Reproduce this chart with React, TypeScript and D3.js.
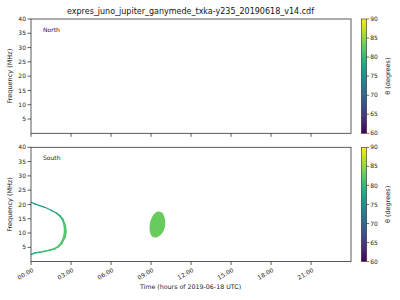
import React from "react";
import * as d3 from "d3";

const title = "expres_juno_jupiter_ganymede_txka-y235_20190618_v14.cdf";
const panels = ["North", "South"];
const xTickHours = [0, 3, 6, 9, 12, 15, 18, 21];
const xTickLabels = ["00:00", "03:00", "06:00", "09:00", "12:00", "15:00", "18:00", "21:00"];
const yTicks = [5, 10, 15, 20, 25, 30, 35, 40];
const cbTicks = [60, 65, 70, 75, 80, 85, 90];

// South arc (hours, MHz, theta degrees)
const arcTime = [0.02, 0.28, 0.65, 1.03, 1.52, 1.9, 2.15, 2.35, 2.48, 2.55, 2.57, 2.5, 2.27, 2.05, 1.77, 1.4, 1.03, 0.65, 0.28, 0.02];
const arcFreq = [20.75, 20.2, 19.6, 19.0, 17.95, 17.0, 16.1, 15.0, 13.4, 12.0, 10.4, 8.5, 6.3, 5.3, 4.5, 4.0, 3.6, 3.3, 3.0, 2.55];
const arcTheta = [76, 76, 76, 76.5, 77, 77.5, 78.5, 80, 81, 81.5, 82, 82, 82, 81.5, 81, 81, 80.5, 80, 79, 77];

// South blob outline (hours, MHz)
const blobTime = [9.6, 9.86, 9.99, 10.07, 10.05, 9.92, 9.68, 9.38, 9.08, 8.93, 8.89, 8.96, 9.15, 9.38];
const blobFreq = [17.54, 17.01, 15.79, 14.21, 12.29, 10.54, 9.14, 8.44, 8.79, 10.19, 12.11, 14.21, 16.14, 17.26];
const blobTheta = 83;

const FONT = "DejaVu Sans, sans-serif";
const AX = "#333";

export default function App() {
  const x = d3.scaleLinear().domain([0, 24]).range([31, 351]);
  const panelY = [
    d3.scaleLinear().domain([0, 40]).range([133.3, 19]),
    d3.scaleLinear().domain([0, 40]).range([261.6, 147.3]),
  ];
  const color = d3.scaleSequential(d3.interpolateViridis).domain([60, 90]);
  const cbX0 = 361.3;
  const cbW = 5.4;
  const gradStops = d3.range(0, 1.0001, 0.05);

  const yS = panelY[1];
  const blobPath = d3
    .line<number>()
    .x((_, i) => x(blobTime[i]))
    .y((_, i) => yS(blobFreq[i]))
    .curve(d3.curveCardinalClosed.tension(0.3))(blobTime.map((_, i) => i));

  const arcSegs = arcTime.slice(0, -1).map((_, i) => {
    const fm = (arcFreq[i] + arcFreq[i + 1]) / 2;
    const w = 1.2 + 1.8 * Math.max(0, 1 - Math.abs(fm - 10) / 8);
    return {
      x1: x(arcTime[i]),
      y1: yS(arcFreq[i]),
      x2: x(arcTime[i + 1]),
      y2: yS(arcFreq[i + 1]),
      c: color((arcTheta[i] + arcTheta[i + 1]) / 2),
      w,
    };
  });

  return (
    <svg
      width={400}
      height={300}
      style={{ position: "absolute", left: 0, top: 0, background: "#fff" }}
      fontFamily={FONT}
    >
      <defs>
        <linearGradient id="viridis" x1="0" y1="1" x2="0" y2="0">
          {gradStops.map((s) => (
            <stop key={s} offset={s} stopColor={d3.interpolateViridis(s)} />
          ))}
        </linearGradient>
      </defs>
      <text x={190.5} y={13.5} fontSize={8} textAnchor="middle" fill="#111">
        {title}
      </text>
      {panels.map((name, p) => {
        const y = panelY[p];
        const [yb, yt] = y.range();
        const cx = x.range();
        return (
          <g key={name}>
            {p === 1 && (
              <g>
                <path d={blobPath || ""} fill={color(blobTheta)} />
                {arcSegs.map((s, i) => (
                  <line
                    key={i}
                    x1={s.x1}
                    y1={s.y1}
                    x2={s.x2}
                    y2={s.y2}
                    stroke={s.c}
                    strokeWidth={s.w}
                    strokeLinecap="round"
                  />
                ))}
              </g>
            )}
            <rect
              x={cx[0]}
              y={yt}
              width={cx[1] - cx[0]}
              height={yb - yt}
              fill="none"
              stroke={AX}
              strokeWidth={0.8}
            />
            <text x={43} y={yt + 12.5} fontSize={6} fill="#222">
              {name}
            </text>
            {yTicks.map((t) => (
              <g key={t}>
                <line x1={cx[0] - 3.5} x2={cx[0]} y1={y(t)} y2={y(t)} stroke={AX} strokeWidth={0.8} />
                <text x={cx[0] - 5} y={y(t) + 2.1} fontSize={6} textAnchor="end" fill="#222">
                  {t}
                </text>
              </g>
            ))}
            {xTickHours.map((h, i) => (
              <g key={h}>
                <line x1={x(h)} x2={x(h)} y1={yb} y2={yb + 3.5} stroke={AX} strokeWidth={0.8} />
                {p === 1 && (
                  <text
                    transform={`translate(${x(h) + 1},${yb + 6}) rotate(-30)`}
                    fontSize={6}
                    textAnchor="end"
                    dy="0.7em"
                    fill="#222"
                  >
                    {xTickLabels[i]}
                  </text>
                )}
              </g>
            ))}
            <text
              transform={`translate(12,${(yt + yb) / 2}) rotate(-90)`}
              fontSize={6.5}
              textAnchor="middle"
              fill="#222"
            >
              Frequency (MHz)
            </text>
            {/* colorbar */}
            <rect x={cbX0} y={yt} width={cbW} height={yb - yt} fill="url(#viridis)" stroke={AX} strokeWidth={0.6} />
            {cbTicks.map((v) => {
              const cy = yb - ((v - 60) / 30) * (yb - yt);
              return (
                <g key={v}>
                  <line x1={cbX0 + cbW} x2={cbX0 + cbW + 2.5} y1={cy} y2={cy} stroke={AX} strokeWidth={0.7} />
                  <text x={cbX0 + cbW + 3.5} y={cy + 2.1} fontSize={6} fill="#222">
                    {v}
                  </text>
                </g>
              );
            })}
            <text
              transform={`translate(390,${(yt + yb) / 2}) rotate(-90)`}
              fontSize={6.5}
              textAnchor="middle"
              fill="#222"
            >
              θ (degrees)
            </text>
          </g>
        );
      })}
      <text x={190.5} y={289} fontSize={6.3} textAnchor="middle" fill="#222">
        Time (hours of 2019-06-18 UTC)
      </text>
    </svg>
  );
}
